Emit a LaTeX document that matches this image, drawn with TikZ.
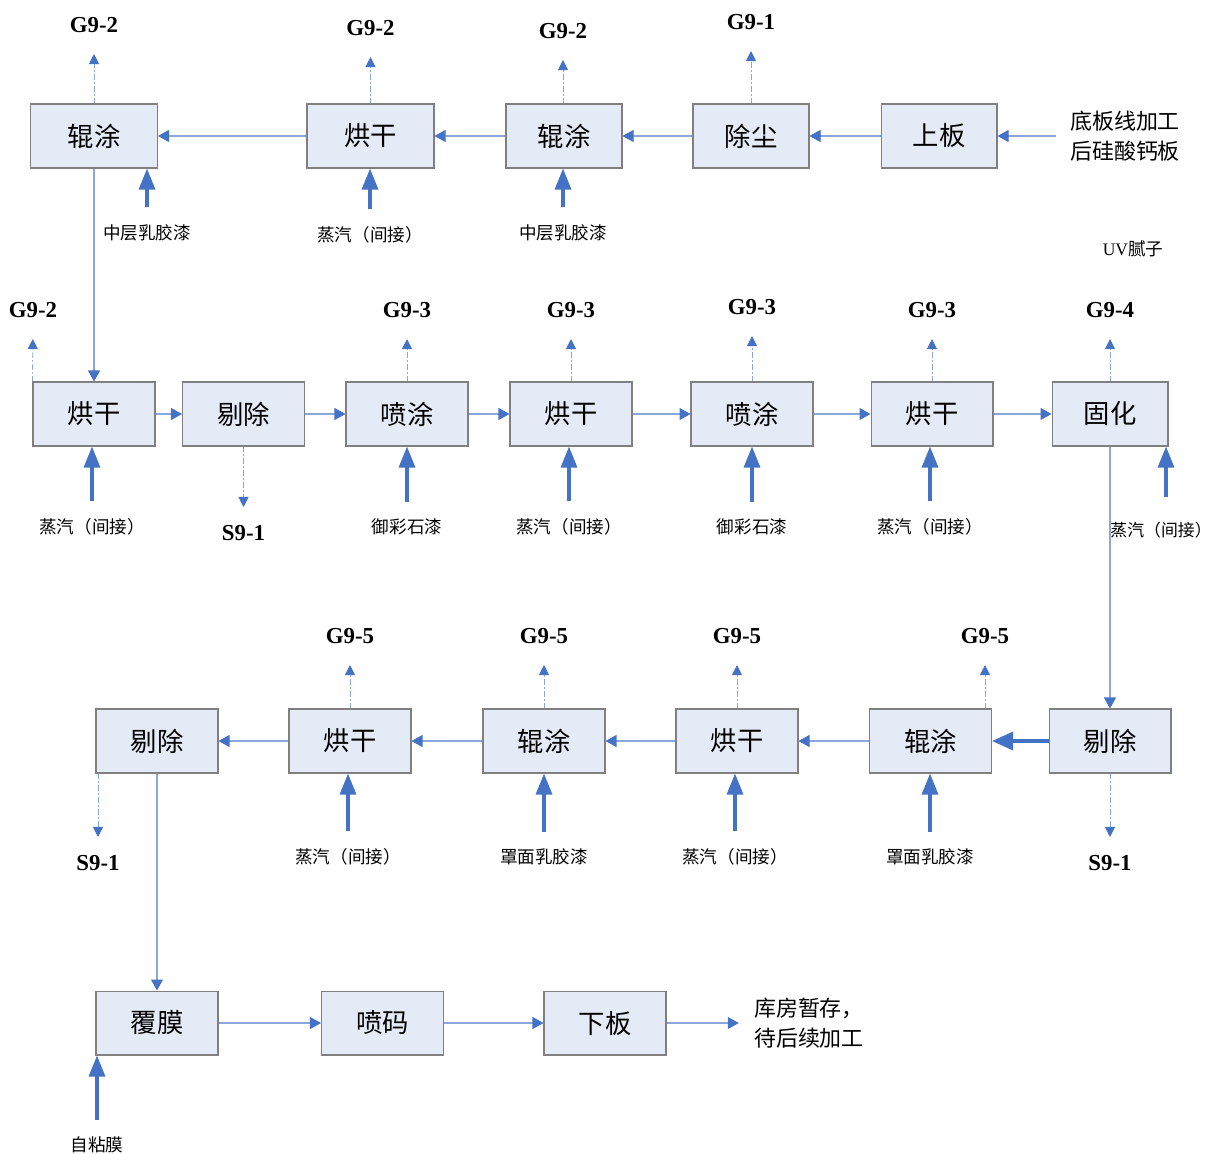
\documentclass[tikz,border=0pt]{standalone}
\usepackage{fontspec}
\setmainfont{Liberation Serif}
\newfontfamily\cjk{Noto Sans CJK SC}
\usetikzlibrary{arrows.meta}

\definecolor{boxfill}{HTML}{E5EBF6}
\definecolor{boxline}{HTML}{808080}
\definecolor{flowblue}{HTML}{4472C4}
\definecolor{flowline}{HTML}{8AA6DA}

\tikzset{
    proc/.style={draw=boxline, fill=boxfill, line width=0.6pt, minimum width=2.44cm, minimum height=1.28cm,
        inner sep=0pt, font=\cjk\fontsize{15}{17}\selectfont},
    code/.style={inner sep=0pt, font=\bfseries\fontsize{13}{15}\selectfont},
    feedtext/.style={inner sep=0pt, font=\cjk\fontsize{10}{12}\selectfont},
    sidetext/.style={inner sep=0pt, align=left, font=\cjk\fontsize{12.5}{17}\selectfont},
    flow/.style={draw=flowline, line width=0.6pt, -{Triangle[width=0.24cm, length=0.22cm, color=flowblue]}},
    bigflow/.style={draw=flowblue, line width=1.8pt, -{Triangle[width=0.36cm, length=0.42cm]}},
    emit/.style={draw=flowline, line width=0.5pt, dash pattern=on 3pt off 1.5pt on 0.8pt off 1.5pt,
        -{Triangle[width=0.2cm, length=0.2cm, color=flowblue]}, shorten >=0.42cm},
    waste/.style={emit, shorten >=0.36cm},
    feed/.style={draw=flowblue, line width=1.8pt, -{Triangle[width=0.32cm, length=0.42cm]}, shorten <=0.34cm}
}

\begin{document}
\begin{tikzpicture}[x=0.02cm, y=-0.02cm]
    \useasboundingbox (0,0) rectangle (1212,1153);

    % Draw first row (right to left)
    \node[proc, minimum width=2.54cm] (r1a) at (94,136) {辊涂};
    \node[proc, minimum width=2.54cm] (r1b) at (370.5,136) {烘干};
    \node[proc, minimum width=2.32cm] (r1c) at (564,136) {辊涂};
    \node[proc, minimum width=2.32cm] (r1d) at (751,136) {除尘};
    \node[proc, minimum width=2.32cm] (r1e) at (939,136) {上板};
    \node[sidetext] (src) at (1125,136) {底板线加工\\后硅酸钙板};
    \node[feedtext] (uv) at (1133,249) {{\rmfamily UV}腻子};

    % Draw second row (left to right)
    \node[proc] (r2a) at (94,414) {烘干};
    \node[proc] (r2b) at (243.5,414) {剔除};
    \node[proc] (r2c) at (407,414) {喷涂};
    \node[proc] (r2d) at (571,414) {烘干};
    \node[proc] (r2e) at (752,414) {喷涂};
    \node[proc] (r2f) at (932,414) {烘干};
    \node[proc, minimum width=2.32cm] (r2g) at (1110,414) {固化};

    % Draw third row (right to left)
    \node[proc] (r3a) at (157,741) {剔除};
    \node[proc] (r3b) at (350,741) {烘干};
    \node[proc] (r3c) at (544,741) {辊涂};
    \node[proc] (r3d) at (737,741) {烘干};
    \node[proc] (r3e) at (930.5,741) {辊涂};
    \node[proc] (r3f) at (1110,741) {剔除};

    % Draw last row
    \node[proc] (r4a) at (157,1023) {覆膜};
    \node[proc] (r4b) at (382.5,1023) {喷码};
    \node[proc] (r4c) at (605,1023) {下板};
    \node[sidetext] (dst) at (809,1023) {库房暂存，\\待后续加工};

    % Draw main flow
    \draw[flow, shorten <=0.28cm] (src.west) -- (r1e.east);
    \draw[flow] (r1e) -- (r1d);
    \draw[flow] (r1d) -- (r1c);
    \draw[flow] (r1c) -- (r1b);
    \draw[flow] (r1b) -- (r1a);
    \draw[flow] (r1a) -- (r2a);
    \draw[flow] (r2a) -- (r2b);
    \draw[flow] (r2b) -- (r2c);
    \draw[flow] (r2c) -- (r2d);
    \draw[flow] (r2d) -- (r2e);
    \draw[flow] (r2e) -- (r2f);
    \draw[flow] (r2f) -- (r2g);
    \draw[flow] (r2g) -- (r3f);
    \draw[bigflow] (r3f) -- (r3e);
    \draw[flow] (r3e) -- (r3d);
    \draw[flow] (r3d) -- (r3c);
    \draw[flow] (r3c) -- (r3b);
    \draw[flow] (r3b) -- (r3a);
    \draw[flow] (r3a) -- (r4a);
    \draw[flow] (r4a) -- (r4b);
    \draw[flow] (r4b) -- (r4c);
    \draw[flow, shorten >=0.3cm] (r4c.east) -- (dst.west);

    % Draw gas emissions
    \node[code] (g1a) at (94,25) {G9-2};
    \node[code] (g1b) at (370.5,28) {G9-2};
    \node[code] (g1c) at (563,31) {G9-2};
    \node[code] (g1d) at (751,22) {G9-1};
    \draw[emit] (r1a.north) -- (g1a.south);
    \draw[emit] (r1b.north) -- (g1b.south);
    \draw[emit] (r1c.north -| g1c) -- (g1c.south);
    \draw[emit] (r1d.north) -- (g1d.south);

    \node[code] (g2a) at (33,310) {G9-2};
    \node[code] (g2c) at (407,310) {G9-3};
    \node[code] (g2d) at (571,310) {G9-3};
    \node[code] (g2e) at (752,307) {G9-3};
    \node[code] (g2f) at (932,310) {G9-3};
    \node[code] (g2g) at (1110,310) {G9-4};
    \draw[emit] (r2a.north west) -- (g2a.south);
    \draw[emit] (r2c.north) -- (g2c.south);
    \draw[emit] (r2d.north) -- (g2d.south);
    \draw[emit] (r2e.north) -- (g2e.south);
    \draw[emit] (r2f.north) -- (g2f.south);
    \draw[emit] (r2g.north) -- (g2g.south);

    \node[code] (g3b) at (350,636) {G9-5};
    \node[code] (g3c) at (544,636) {G9-5};
    \node[code] (g3d) at (737,636) {G9-5};
    \node[code] (g3e) at (985,636) {G9-5};
    \draw[emit] (r3b.north) -- (g3b.south);
    \draw[emit] (r3c.north) -- (g3c.south);
    \draw[emit] (r3d.north) -- (g3d.south);
    \draw[emit] (r3e.north -| g3e) -- (g3e.south);

    % Draw solid waste
    \node[code] (s2b) at (243.5,533) {S9-1};
    \node[code] (s3a) at (98,863) {S9-1};
    \node[code] (s3f) at (1110,863) {S9-1};
    \draw[waste] (r2b.south) -- (s2b.north);
    \draw[waste] (r3a.south -| s3a) -- (s3a.north);
    \draw[waste] (r3f.south) -- (s3f.north);

    % Draw material inputs
    \node[feedtext] (f1a) at (147,233) {中层乳胶漆};
    \node[feedtext] (f1b) at (370,235) {蒸汽（间接）};
    \node[feedtext] (f1c) at (563,233) {中层乳胶漆};
    \draw[feed] (f1a.north) -- (f1a.north |- r1a.south);
    \draw[feed] (f1b.north) -- (f1b.north |- r1b.south);
    \draw[feed] (f1c.north) -- (f1c.north |- r1c.south);

    \node[feedtext] (f2a) at (92,527) {蒸汽（间接）};
    \node[feedtext] (f2c) at (407,527) {御彩石漆};
    \node[feedtext] (f2d) at (569,527) {蒸汽（间接）};
    \node[feedtext] (f2e) at (752,527) {御彩石漆};
    \node[feedtext] (f2f) at (930,527) {蒸汽（间接）};
    \node[feedtext, font=\cjk\fontsize{9.6}{12}\selectfont] (f2g) at (1161,530) {蒸汽（间接）};
    \draw[feed] (f2a.north) -- (f2a.north |- r2a.south);
    \draw[feed] (f2c.north) -- (f2c.north |- r2c.south);
    \draw[feed] (f2d.north) -- (f2d.north |- r2d.south);
    \draw[feed] (f2e.north) -- (f2e.north |- r2e.south);
    \draw[feed] (f2f.north) -- (f2f.north |- r2f.south);
    \draw[feed, shorten <=0.5cm] ([xshift=0.1cm]f2g.north) -- ([xshift=0.1cm]f2g.north |- r2g.south);

    \node[feedtext] (f3b) at (348,857) {蒸汽（间接）};
    \node[feedtext] (f3c) at (544,857) {罩面乳胶漆};
    \node[feedtext] (f3d) at (735,857) {蒸汽（间接）};
    \node[feedtext] (f3e) at (930,857) {罩面乳胶漆};
    \draw[feed] (f3b.north) -- (f3b.north |- r3b.south);
    \draw[feed] (f3c.north) -- (f3c.north |- r3c.south);
    \draw[feed] (f3d.north) -- (f3d.north |- r3d.south);
    \draw[feed] (f3e.north) -- (f3e.north |- r3e.south);

    \node[feedtext] (f4a) at (97,1145) {自粘膜};
    \draw[feed] (f4a.north) -- (f4a.north |- r4a.south);
\end{tikzpicture}
\end{document}
